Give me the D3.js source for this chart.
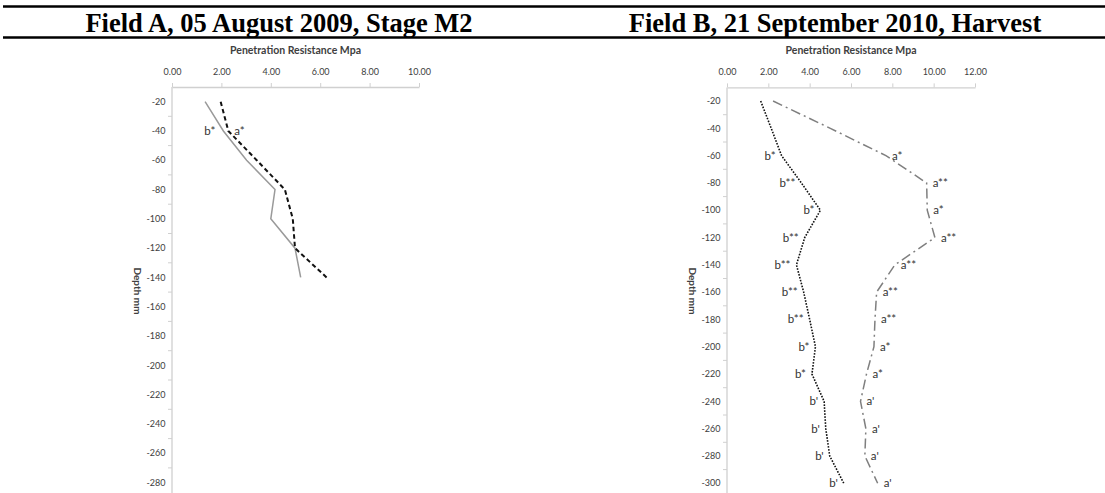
<!DOCTYPE html>
<html>
<head>
<meta charset="utf-8">
<script src="https://cdn.jsdelivr.net/npm/d3@7"></script>
<style>
  body { margin: 0; background: #fff; }
  svg { display: block; }
</style>
</head>
<body>
<div id="chart"></div>
<script>
// Data: depth categories (mm) and penetration resistance (MPa)
const depthsA = [-20, -40, -60, -80, -100, -120, -140, -160, -180, -200, -220, -240, -260, -280];
const depthsB = [-20, -40, -60, -80, -100, -120, -140, -160, -180, -200, -220, -240, -260, -280, -300];

const fieldA_b = [1.34, 2.08, 3.02, 4.17, 4.00, 4.98, 5.21];
const fieldA_a = [1.97, 2.28, 3.43, 4.57, 4.89, 4.98, 6.26];
const labelsA_b = ["", "b*", "", "", "", "", ""];
const labelsA_a = ["", "a*", "", "", "", "", ""];

const fieldB_b = [1.63, 2.14, 2.64, 3.60, 4.52, 3.76, 3.36, 3.71, 4.00, 4.28, 4.11, 4.70, 4.78, 4.97, 5.65];
const fieldB_a = [2.23, 5.00, 7.69, 9.66, 9.69, 10.06, 8.12, 7.24, 7.16, 7.11, 6.75, 6.46, 6.72, 6.67, 7.29];
const labelsB_b = ["", "", "b*", "b**", "b*", "b**", "b**", "b**", "b**", "b*", "b*", "b'", "b'", "b'", "b'"];
const labelsB_a = ["", "", "a*", "a**", "a*", "a**", "a**", "a**", "a**", "a*", "a*", "a'", "a'", "a'", "a'"];

const ticksA = [0, 2, 4, 6, 8, 10];
const ticksB = [0, 2, 4, 6, 8, 10, 12];

const titles = ["Field A, 05 August 2009, Stage M2", "Field B, 21 September 2010, Harvest"];

// Dimensions
const width = 1105;
const height = 493;

const svg = d3.select("#chart")
  .append("svg")
  .attr("width", width)
  .attr("height", height);

// Header rules and titles
svg.append("line")
  .attr("x1", 3).attr("x2", width).attr("y1", 6.5).attr("y2", 6.5)
  .attr("stroke", "#000").attr("stroke-width", 2.5);
svg.append("line")
  .attr("x1", 3).attr("x2", width).attr("y1", 37.5).attr("y2", 37.5)
  .attr("stroke", "#000").attr("stroke-width", 2.5);

svg.selectAll("text.title")
  .data(titles)
  .join("text")
  .attr("class", "title")
  .attr("x", (d, i) => i === 0 ? 279 : 835)
  .attr("y", 31.5)
  .attr("text-anchor", "middle")
  .style("font-family", "'Liberation Serif', 'Times New Roman', serif")
  .style("font-weight", "bold")
  .style("font-size", "26.5px")
  .text(d => d);

// One panel: x scale on top, depth categories down the left
function panel(opt) {
  const x = d3.scaleLinear().domain(opt.xDomain).range(opt.xRange);
  const y = d3.scaleBand().domain(opt.depths).range(opt.yRange);
  const g = svg.append("g");
  const axisColor = "#d0d0d0";
  const textColor = "#404040";
  const font = "Lato, 'Open Sans', sans-serif";

  // x axis (top)
  const xAxis = g.append("g")
    .attr("transform", `translate(0,${opt.yRange[0]})`)
    .call(d3.axisTop(x).tickValues(opt.ticks).tickFormat(d3.format(".2f")).tickSize(4).tickPadding(8).tickSizeOuter(0));
  xAxis.select(".domain").attr("stroke", axisColor).attr("stroke-width", 1.3);
  xAxis.selectAll(".tick line").attr("stroke", axisColor);
  xAxis.selectAll(".tick text")
    .attr("fill", textColor)
    .style("font-family", font)
    .style("font-size", "9px");

  // y axis (left), category labels centred in bands, ticks between
  const x0 = opt.xRange[0];
  g.append("line")
    .attr("x1", x0).attr("x2", x0)
    .attr("y1", opt.yRange[0]).attr("y2", opt.yRange[1])
    .attr("stroke", axisColor).attr("stroke-width", 1.3);
  g.append("g")
    .selectAll("line")
    .data(opt.depths)
    .join("line")
    .attr("x1", x0 - 4).attr("x2", x0)
    .attr("y1", d => y(d) + y.bandwidth())
    .attr("y2", d => y(d) + y.bandwidth())
    .attr("stroke", axisColor);
  g.append("g")
    .selectAll("text")
    .data(opt.depths)
    .join("text")
    .attr("x", x0 - 6.5)
    .attr("y", d => y(d) + y.bandwidth() / 2)
    .attr("dy", "0.35em")
    .attr("text-anchor", "end")
    .attr("fill", textColor)
    .style("font-family", font)
    .style("font-size", "9px")
    .text(d => d);

  // axis titles
  g.append("text")
    .attr("x", (opt.xRange[0] + opt.xRange[1]) / 2)
    .attr("y", 54)
    .attr("text-anchor", "middle")
    .attr("fill", textColor)
    .style("font-family", font)
    .style("font-weight", "bold")
    .style("font-size", "10.5px")
    .text("Penetration Resistance Mpa");
  g.append("text")
    .attr("transform", `translate(${x0 - 34},291) rotate(90)`)
    .attr("text-anchor", "middle")
    .attr("dominant-baseline", "central")
    .attr("fill", textColor)
    .style("font-family", font)
    .style("font-weight", "bold")
    .style("font-size", "10px")
    .text("Depth mm");

  // series lines
  const line = d3.line()
    .x(d => x(d.v))
    .y(d => y(d.depth) + y.bandwidth() / 2);

  opt.series.forEach(s => {
    const pts = s.values.map((v, i) => ({ v, depth: opt.depths[i], label: s.labels[i] }));
    g.append("path")
      .datum(pts)
      .attr("fill", "none")
      .attr("stroke", s.color)
      .attr("stroke-width", s.width)
      .attr("stroke-dasharray", s.dash)
      .attr("d", line);

    g.append("g")
      .selectAll("text")
      .data(pts.filter(p => p.label))
      .join("text")
      .attr("x", p => x(p.v) + s.labelDx)
      .attr("y", p => y(p.depth) + y.bandwidth() / 2 + 4)
      .attr("text-anchor", s.anchor)
      .attr("fill", "#333")
      .style("font-family", font)
      .style("font-size", "11.5px")
      .text(p => p.label);
  });
}

panel({
  xDomain: [0, 10], xRange: [172, 419],
  yRange: [87, 87 + 14 * 29.3],
  depths: depthsA, ticks: ticksA,
  series: [
    { values: fieldA_b, labels: labelsA_b, color: "#9a9a9a", width: 1.5, dash: null, labelDx: -8, anchor: "end" },
    { values: fieldA_a, labels: labelsA_a, color: "#111", width: 2, dash: "4.5,3", labelDx: 6, anchor: "start" }
  ]
});

panel({
  xDomain: [0, 12], xRange: [727, 975],
  yRange: [87.4, 87.4 + 15 * 27.3],
  depths: depthsB, ticks: ticksB,
  series: [
    { values: fieldB_b, labels: labelsB_b, color: "#111", width: 1.6, dash: "1.6,1.4", labelDx: -6, anchor: "end" },
    { values: fieldB_a, labels: labelsB_a, color: "#7f7f7f", width: 1.5, dash: "10,4,2,4", labelDx: 6, anchor: "start" }
  ]
});
</script>
</body>
</html>
